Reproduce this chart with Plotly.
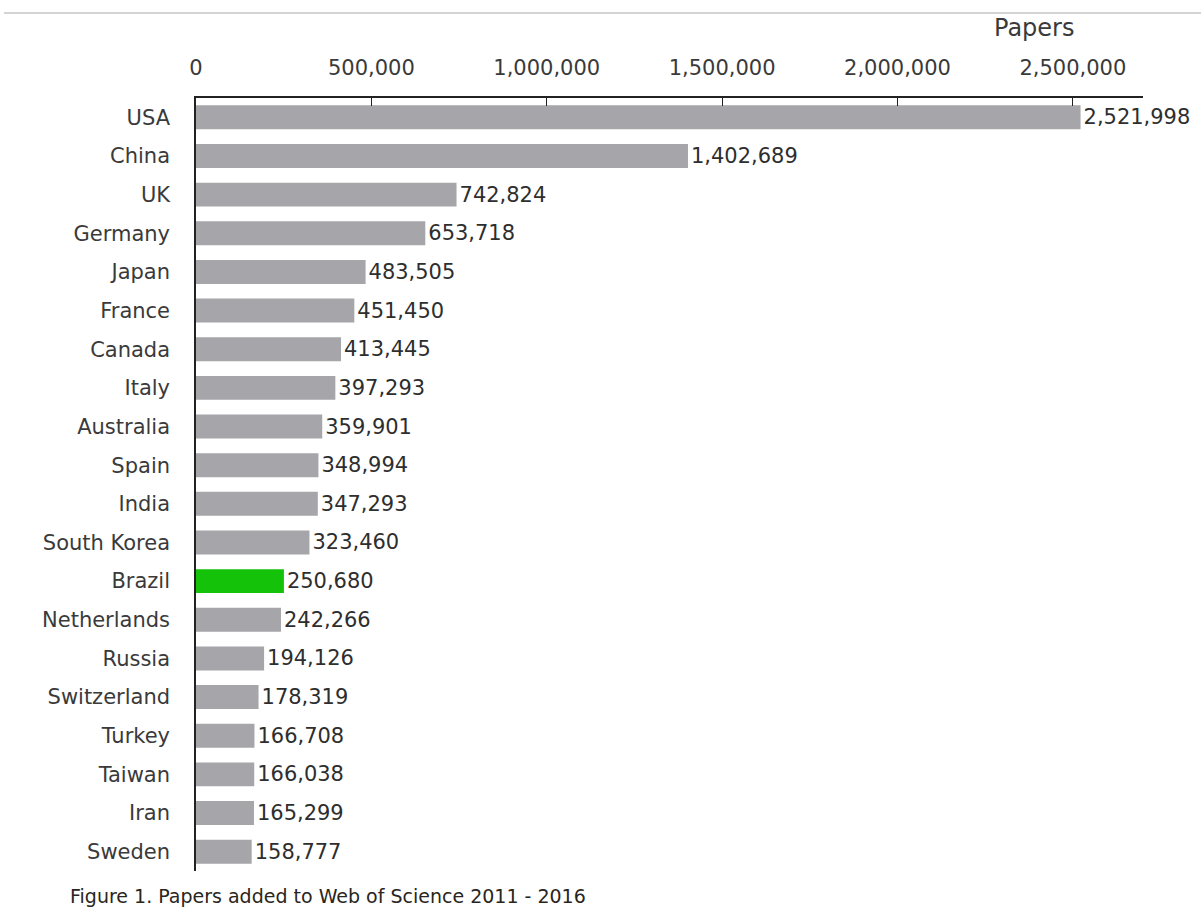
import plotly.graph_objects as go

# Papers added to Web of Science 2011-2016, by country
countries = ["USA", "China", "UK", "Germany", "Japan", "France", "Canada", "Italy",
             "Australia", "Spain", "India", "South Korea", "Brazil", "Netherlands",
             "Russia", "Switzerland", "Turkey", "Taiwan", "Iran", "Sweden"]
papers = [2521998, 1402689, 742824, 653718, 483505, 451450, 413445, 397293,
          359901, 348994, 347293, 323460, 250680, 242266,
          194126, 178319, 166708, 166038, 165299, 158777]
highlight = "Brazil"
tick_values = [0, 500000, 1000000, 1500000, 2000000, 2500000]

GREY = "#a6a6aa"
GREEN = "#14c20a"
TEXT = "#3a3a3a"
FONT = "DejaVu Sans"

bar_colors = [GREEN if c == highlight else GREY for c in countries]
labels = [f"{v:,}" for v in papers]

fig = go.Figure(go.Bar(
    x=papers,
    y=countries,
    orientation="h",
    marker=dict(color=bar_colors, line=dict(width=0)),
    text=labels,
    textposition="outside",
    textfont=dict(family=FONT, size=21, color="#2e2e2e"),
    cliponaxis=False,
    width=0.62,
))

fig.update_layout(
    width=1201,
    height=908,
    margin=dict(l=196, r=58, t=98, b=37),
    paper_bgcolor="white",
    plot_bgcolor="white",
    showlegend=False,
    font=dict(family=FONT, size=21, color=TEXT),
    xaxis=dict(
        side="top",
        range=[0, 2700000],
        tickvals=tick_values,
        ticktext=[f"{v:,}" for v in tick_values],
        ticks="inside",
        ticklen=8,
        tickcolor="#222",
        tickwidth=1,
        showline=True,
        linecolor="#222",
        linewidth=1.5,
        showgrid=False,
        zeroline=False,
        ticklabelstandoff=13,
        tickfont=dict(family=FONT, size=21, color=TEXT),
    ),
    yaxis=dict(
        autorange="reversed",
        showline=True,
        linecolor="#222",
        linewidth=1.5,
        ticks="",
        showgrid=False,
        ticklabelstandoff=20,
        tickfont=dict(family=FONT, size=21, color=TEXT),
    ),
    annotations=[
        dict(text="Papers", xref="paper", yref="paper",
             x=(1034 - 196) / (1201 - 196 - 58), y=1 + (98 - 28) / (908 - 98 - 37),
             xanchor="center", yanchor="middle", showarrow=False,
             font=dict(family=FONT, size=24, color=TEXT)),
        dict(text="Figure 1. Papers added to Web of Science 2011 - 2016",
             xref="paper", yref="paper",
             x=(68 - 196) / (1201 - 196 - 58), y=-(896 - 871) / (908 - 98 - 37),
             xanchor="left", yanchor="middle", showarrow=False,
             font=dict(family=FONT, size=19, color="#2a2520")),
    ],
    shapes=[
        dict(type="line", xref="paper", yref="paper",
             x0=(4 - 196) / (1201 - 196 - 58), x1=(1201 - 196) / (1201 - 196 - 58),
             y0=1 + (98 - 13) / (908 - 98 - 37), y1=1 + (98 - 13) / (908 - 98 - 37),
             line=dict(color="#d4d4d4", width=2)),
    ],
)

fig.write_html("out.html")
